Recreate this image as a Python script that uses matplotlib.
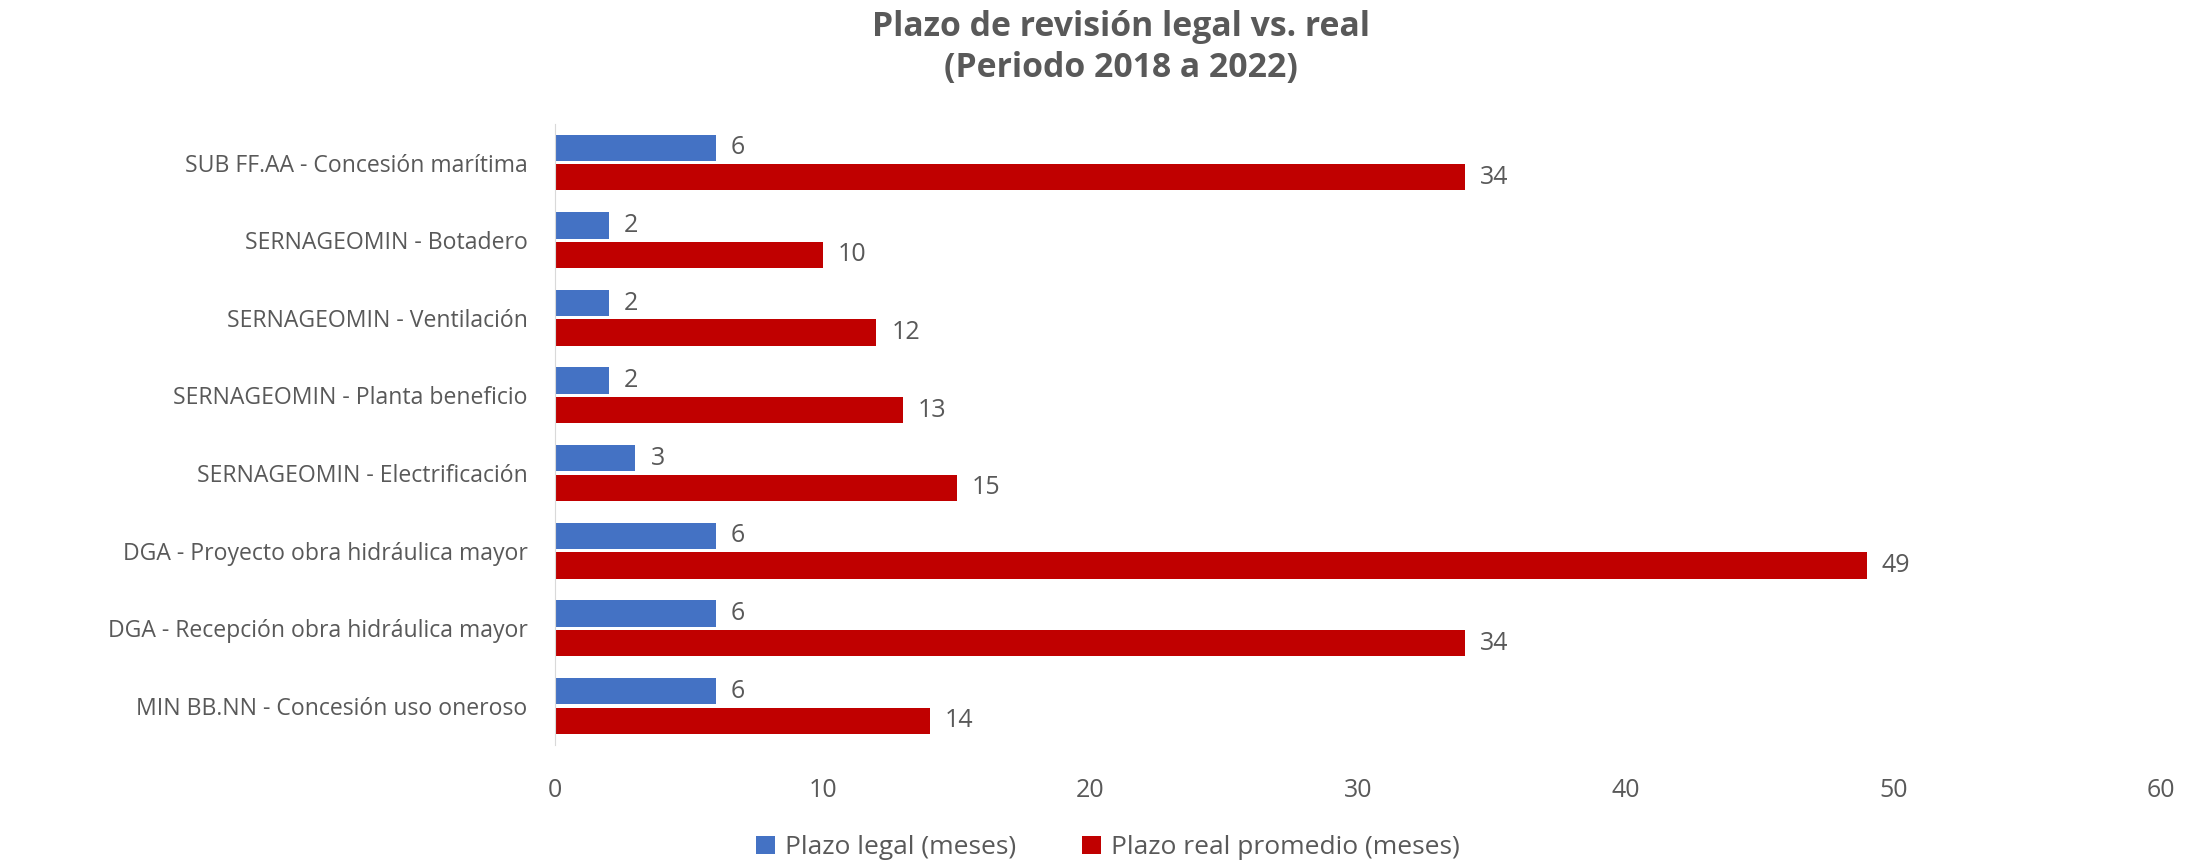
import numpy as np
import matplotlib
matplotlib.use("Agg")
from matplotlib import pyplot as plt

categorias = [
    "SUB FF.AA - Concesión marítima",
    "SERNAGEOMIN - Botadero",
    "SERNAGEOMIN - Ventilación",
    "SERNAGEOMIN - Planta beneficio",
    "SERNAGEOMIN - Electrificación",
    "DGA - Proyecto obra hidráulica mayor",
    "DGA - Recepción obra hidráulica mayor",
    "MIN BB.NN - Concesión uso oneroso",
]
plazo_legal = [6, 2, 2, 2, 3, 6, 6, 6]
plazo_real = [34, 10, 12, 13, 15, 49, 34, 14]

plt.rcParams['font.family'] = ['Open Sans', 'DejaVu Sans']
gris = "#595959"

fig = plt.figure(figsize=(22.03, 8.65), dpi=100)
ax = fig.add_axes([0.252, 0.139, 0.729, 0.718])

y = np.arange(len(categorias))
h = 0.34
b1 = ax.barh(y - 0.19, plazo_legal, height=h, color="#4472C4", label="Plazo legal (meses)")
b2 = ax.barh(y + 0.19, plazo_real, height=h, color="#C00000", label="Plazo real promedio (meses)")

for bars, vals in [(b1, plazo_legal), (b2, plazo_real)]:
    for rect, v in zip(bars, vals):
        ax.annotate(str(v), (rect.get_width(), rect.get_y() + rect.get_height() / 2),
                    xytext=(15, 0), textcoords="offset pixels", va="center", ha="left",
                    fontsize=18, color=gris)

ax.set_yticks(y)
ax.set_yticklabels(categorias, fontsize=16.6, color=gris)
ax.set_ylim(len(categorias) - 0.5, -0.5)
ax.set_xlim(0, 60)
ax.set_xticks(range(0, 61, 10))
ax.tick_params(axis="x", labelsize=18, labelcolor=gris, length=0, pad=24)
ax.tick_params(axis="y", length=0, pad=20)
for s in ["top", "right", "bottom"]:
    ax.spines[s].set_visible(False)
ax.spines["left"].set_color("#D9D9D9")

fig.suptitle("Plazo de revisión legal vs. real\n(Periodo 2018 a 2022)", x=0.509, y=0.988,
             fontsize=24.3, fontweight="bold", color=gris, linespacing=1.25)

fig.legend(handles=[b1, b2], loc="lower center", bbox_to_anchor=(0.503, -0.022), ncol=2,
           frameon=False, fontsize=19, labelcolor=gris, handlelength=0.7, handleheight=0.7,
           columnspacing=2.5, handletextpad=0.4)

fig.savefig("out.png", dpi=100)
